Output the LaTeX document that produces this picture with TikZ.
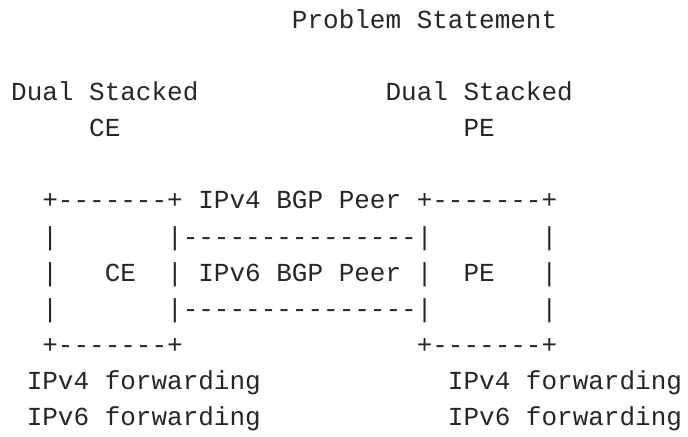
\documentclass[tikz,border=0pt]{standalone}
\usepackage{fontspec}
\setmonofont{Liberation Mono}
\begin{document}
\begin{tikzpicture}[x=15.6pt, y=-36.1pt,
    txt/.style={anchor=base west, inner sep=0pt, text=black!85,
      font=\ttfamily\fontsize{26}{26}\selectfont}]
    % Margini
    \useasboundingbox (-0.705,-0.789) rectangle (43.398,11.289);

    % Titolo
    \node[txt] (title) at (18,0) {Problem Statement};

    % Etichette dei router
    \node[txt] (dualCE) at (0,2) {Dual Stacked};
    \node[txt] (dualPE) at (24,2) {Dual Stacked};
    \node[txt] (lblCE) at (5,3) {CE};
    \node[txt] (lblPE) at (29,3) {PE};

    % Riga superiore
    \node[txt] (ceTop) at (2,5) {+-------+};
    \node[txt] (peerV4) at (12,5) {IPv4 BGP Peer};
    \node[txt] (peTop) at (26,5) {+-------+};

    % Prima linea di peering
    \node[txt] (ceLa) at (2,6) {|};
    \node[txt] (linkA) at (10,6) {|---------------|};
    \node[txt] (peRa) at (34,6) {|};

    % Riga centrale
    \node[txt] (ceLb) at (2,7) {|};
    \node[txt] (ceName) at (6,7) {CE};
    \node[txt] (ceRb) at (10,7) {|};
    \node[txt] (peerV6) at (12,7) {IPv6 BGP Peer};
    \node[txt] (peLb) at (26,7) {|};
    \node[txt] (peName) at (29,7) {PE};
    \node[txt] (peRb) at (34,7) {|};

    % Seconda linea di peering
    \node[txt] (ceLc) at (2,8) {|};
    \node[txt] (linkB) at (10,8) {|---------------|};
    \node[txt] (peRc) at (34,8) {|};

    % Riga inferiore
    \node[txt] (ceBot) at (2,9) {+-------+};
    \node[txt] (peBot) at (26,9) {+-------+};

    % Inoltro
    \node[txt] (fwdCEa) at (1,10) {IPv4 forwarding};
    \node[txt] (fwdCEb) at (1,11) {IPv6 forwarding};
    \node[txt] (fwdPEa) at (28,10) {IPv4 forwarding};
    \node[txt] (fwdPEb) at (28,11) {IPv6 forwarding};
\end{tikzpicture}
\end{document}
